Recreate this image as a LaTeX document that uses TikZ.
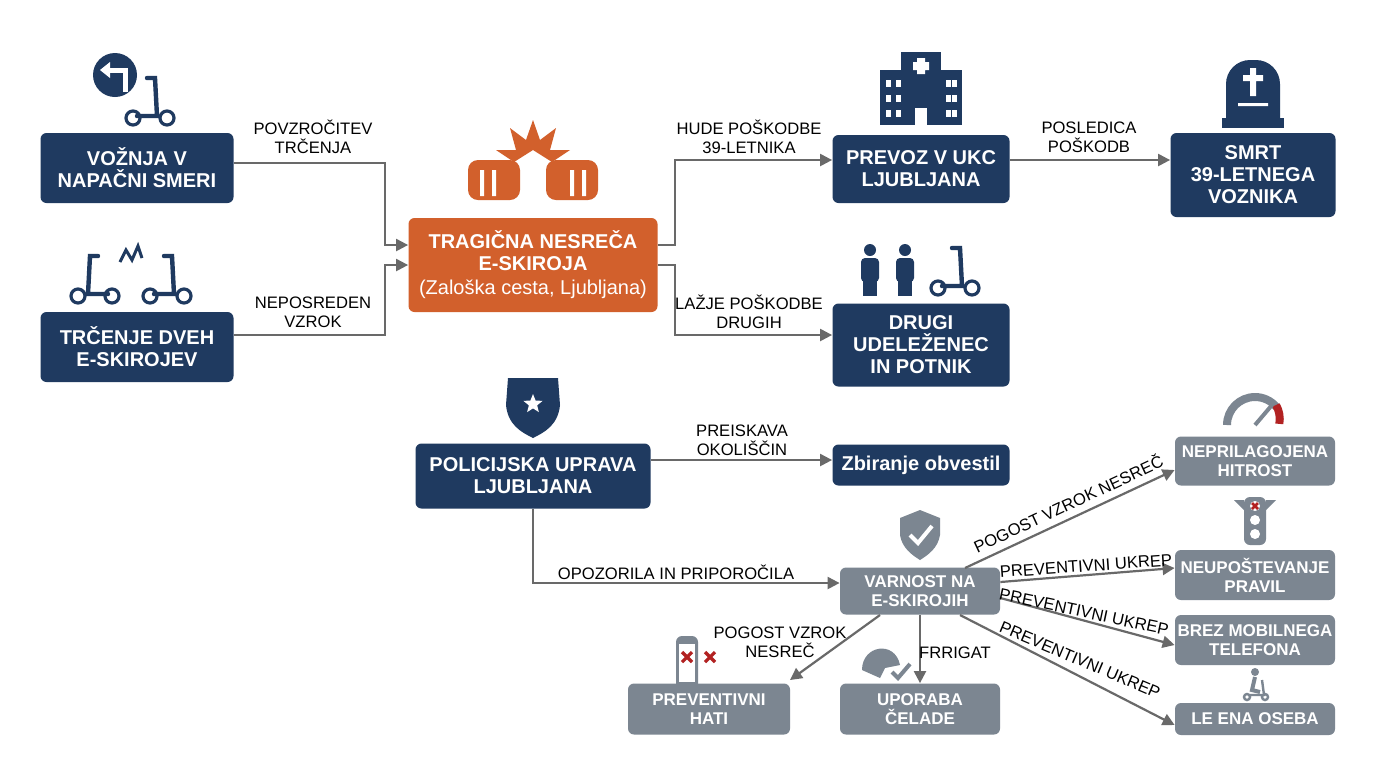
\documentclass[tikz,border=0pt]{standalone}
\usepackage{fontspec}
\setmainfont{Liberation Sans}
\usetikzlibrary{arrows.meta,positioning,shapes.geometric}
\definecolor{ljnavy}{RGB}{31,58,96}
\definecolor{ljorange}{RGB}{210,96,44}
\definecolor{ljgray}{RGB}{124,134,145}
\definecolor{ljline}{RGB}{105,105,105}
\definecolor{ljred}{RGB}{178,34,34}
\tikzset{
  navybox/.style={draw=none, fill=ljnavy, rounded corners=3pt, text=white, font=\bfseries\fontsize{10}{11}\selectfont, align=center, inner sep=0pt},
  graybox/.style={draw=none, fill=ljgray, rounded corners=3pt, text=white, font=\bfseries\fontsize{8.5}{9.5}\selectfont, align=center, inner sep=0pt},
  flow/.style={-{Triangle[length=6pt,width=6pt]}, ljline, line width=1.1pt},
  lbl/.style={font=\fontsize{8.3}{9.3}\selectfont, align=center, inner sep=1pt},
  scooter/.pic={
    \draw[ljnavy, line width=1.6pt] (0,0) circle (7) (34,0) circle (7);
    \draw[ljnavy, line width=2.2pt, line cap=round] (4,-2) -- (24,-2) -- (22,-40) -- (14,-40);
  }
}
\begin{document}
\begin{tikzpicture}[x=0.5pt,y=-0.5pt]
\useasboundingbox[fill=white] (0,0) rectangle (1376,768);
% upper part
\node[navybox, minimum width=96.5pt, minimum height=35pt] (vozn) at (137,168) {VOŽNJA V\\NAPAČNI SMERI};
\node[navybox, minimum width=96.5pt, minimum height=35pt] (trc) at (137,347) {TRČENJE DVEH\\E-SKIROJEV};
\node[navybox, fill=ljorange, minimum width=124.5pt, minimum height=47pt] (trag) at (533,265) {TRAGIČNA NESREČA\\E-SKIROJA\\[1pt]{\mdseries(Zaloška cesta, Ljubljana)}};
\node[navybox, minimum width=88.5pt, minimum height=34pt] (prev) at (921,169) {PREVOZ V UKC\\LJUBLJANA};
\node[navybox, minimum width=82.5pt, minimum height=42pt] (smrt) at (1253,175) {SMRT\\39-LETNEGA\\VOZNIKA};
\node[navybox, minimum width=88.5pt, minimum height=41.5pt] (drugi) at (921,345) {DRUGI\\UDELEŽENEC\\IN POTNIK};
% police part
\node[navybox, minimum width=117.5pt, minimum height=32.5pt] (pol) at (533,476) {POLICIJSKA UPRAVA\\LJUBLJANA};
\node[navybox, minimum width=88.5pt, minimum height=20.5pt] (zbir) at (921,465) {Zbiranje obvestil};
\node[graybox, minimum width=80pt, minimum height=23.5pt] (varn) at (920,591) {VARNOST NA\\E-SKIROJIH};
\node[graybox, minimum width=80pt, minimum height=24.5pt] (hitr) at (1255,461) {NEPRILAGOJENA\\HITROST};
\node[graybox, minimum width=80pt, minimum height=25pt] (prav) at (1255,575) {NEUPOŠTEVANJE\\PRAVIL};
\node[graybox, minimum width=80pt, minimum height=25pt] (tel) at (1255,640) {BREZ MOBILNEGA\\TELEFONA};
\node[graybox, minimum width=80pt, minimum height=16pt] (oseba) at (1255,719) {LE ENA OSEBA};
\node[graybox, minimum width=81pt, minimum height=25.5pt] (hati) at (709,709) {PREVENTIVNI\\HATI};
\node[graybox, minimum width=80pt, minimum height=25.5pt] (cel) at (920,709) {UPORABA\\ČELADE};
% connectors
\draw[flow] (vozn.east |- 0,163) -| (385,245) -- (trag.west |- 0,245);
\draw[flow] (trc.east |- 0,335) -| (385,265) -- (trag.west |- 0,265);
\draw[flow] (trag.east |- 0,245) -- (675,245) |- (prev.west |- 0,160);
\draw[flow] (trag.east |- 0,265) -- (675,265) |- (drugi.west |- 0,335);
\draw[flow] (prev.east |- 0,160) -- (smrt.west |- 0,160);
\draw[flow] (pol.east |- 0,460) -- (zbir.west |- 0,460);
\draw[flow] (pol.south) |- (varn.west |- 0,583);
\draw[flow] (965,568) -- (hitr.west |- 0,470);
\draw[flow] (varn.east |- 0,582) -- (prav.west |- 0,568);
\draw[flow] (varn.east |- 0,598) -- (tel.west |- 0,645);
\draw[flow] (960,615) -- (oseba.west |- 0,725);
\draw[flow] (880,615) -- (790,680);
\draw[flow] (varn.south) -- (cel.north);
% labels
\node[lbl] (l1) at (313,137) {POVZROČITEV\\TRČENJA};
\node[lbl] (l2) at (313,312) {NEPOSREDEN\\VZROK};
\node[lbl] (l3) at (749,137) {HUDE POŠKODBE\\39-LETNIKA};
\node[lbl] (l4) at (749,312) {LAŽJE POŠKODBE\\DRUGIH};
\node[lbl] (l5) at (1089,137) {POSLEDICA\\POŠKODB};
\node[lbl] (l6) at (742,440) {PREISKAVA\\OKOLIŠČIN};
\node[lbl] (l7) at (676,572) {OPOZORILA IN PRIPOROČILA};
\node[lbl, rotate=25] (l8) at (1068,503) {POGOST VZROK NESREČ};
\node[lbl, rotate=4] (l9) at (1086,566) {PREVENTIVNI UKREP};
\node[lbl, rotate=-12] (l10) at (1084,612) {PREVENTIVNI UKREP};
\node[lbl, rotate=-23] (l11) at (1080,660) {PREVENTIVNI UKREP};
\node[lbl] (l12) at (780,642) {POGOST VZROK\\NESREČ};
\node[lbl] (l13) at (955,653) {FRRIGAT};
% icons
\fill[ljnavy] (115,75) circle (22);
\draw[white, line width=2.5pt] (125,92) -- (125,70) -- (106,70);
\fill[white] (100,70) -- (110,62) -- (110,78) -- cycle;
\pic at (133,118) {scooter};
\pic[xscale=-1] at (112,296) {scooter};
\pic at (150,296) {scooter};
\draw[ljnavy, line width=1.5pt] (120,262) -- (126,250) -- (132,260) -- (138,246) -- (142,258);
\fill[ljorange] (533,120) -- (540,140) -- (556,128) -- (550,150) -- (570,150) -- (552,162) -- (533,150) -- (514,162) -- (496,150) -- (516,150) -- (510,128) -- (526,140) -- cycle;
\fill[ljorange, rounded corners=5pt] (468,160) rectangle (520,200);
\fill[ljorange, rounded corners=5pt] (546,160) rectangle (598,200);
\fill[white] (480,170) rectangle (484,196) (492,170) rectangle (496,196) (570,170) rectangle (574,196) (582,170) rectangle (586,196);
\fill[ljnavy] (880,70) rectangle (962,125);
\fill[ljnavy] (901,52) rectangle (941,125);
\fill[white] (917,58) rectangle (925,74) (913,62) rectangle (929,70);
\foreach \wx in {886,896,946,952}
  \foreach \wy in {80,95,110}
    \fill[white] (\wx,\wy) rectangle ++(5,7);
\fill[white] (915,108) rectangle (927,125);
\fill[ljnavy, rounded corners=12pt] (1226,125) -- (1226,60) -- (1280,60) -- (1280,125);
\fill[ljnavy] (1222,118) rectangle (1284,128);
\fill[white] (1250,68) rectangle (1256,96) (1243,75) rectangle (1263,81) (1238,103) rectangle (1268,106);
\foreach \px in {870,905}{
  \fill[ljnavy] (\px,250) circle (6);
  \fill[ljnavy, rounded corners=2pt] (\px-9,258) rectangle (\px+9,282);
  \fill[ljnavy] (\px-7,280) rectangle (\px+7,296);}
\pic at (938,288) {scooter};
\fill[ljnavy] (508,378) -- (558,378) -- (560,405) .. controls (558,425) and (545,432) .. (533,438) .. controls (521,432) and (508,425) .. (506,405) -- cycle;
\node[star, star points=5, star point ratio=2.3, fill=white, minimum size=10pt, inner sep=0pt] (polstar) at (533,404) {};
\draw[ljgray, line width=4pt] (1227,425) arc (180:320:28);
\draw[ljred, line width=4pt] (1276,405) arc (-30:10:28);
\draw[ljgray, line width=2pt] (1255,425) -- (1272,405);
\fill[ljgray, rounded corners=3pt] (1244,497) rectangle (1266,545);
\fill[ljgray] (1244,500) -- (1234,500) -- (1244,510) (1266,500) -- (1276,500) -- (1266,510);
\fill[white] (1255,506) circle (5) (1255,520) circle (5) (1255,534) circle (5);
\draw[ljred, line width=1.3pt] (1252,503) -- (1258,509) (1258,503) -- (1252,509);
\fill[ljgray] (900,518) -- (920,510) -- (940,518) -- (940,535) .. controls (938,548) and (928,555) .. (920,560) .. controls (912,555) and (902,548) .. (900,535) -- cycle;
\draw[white, line width=2pt] (910,535) -- (918,543) -- (932,526);
\fill[ljgray, rounded corners=3pt] (676,636) rectangle (698,690);
\fill[white] (679,644) rectangle (695,682);
\draw[ljred, line width=1.6pt] (682,652) -- (692,662) (692,652) -- (682,662) (705,652) -- (715,662) (715,652) -- (705,662);
\fill[ljgray] (862,670) .. controls (862,645) and (895,640) .. (900,665) -- (885,668) -- (880,678) -- cycle;
\draw[ljgray, line width=2pt] (892,672) -- (898,678) -- (910,664);
\fill[ljgray] (1255,672) circle (4);
\draw[ljgray, line width=2pt] (1255,677) -- (1252,690) -- (1260,692);
\draw[ljgray, line width=1.2pt] (1247,697) circle (3) (1265,697) circle (3) (1248,695) -- (1264,695) -- (1262,680);
\end{tikzpicture}
\end{document}
